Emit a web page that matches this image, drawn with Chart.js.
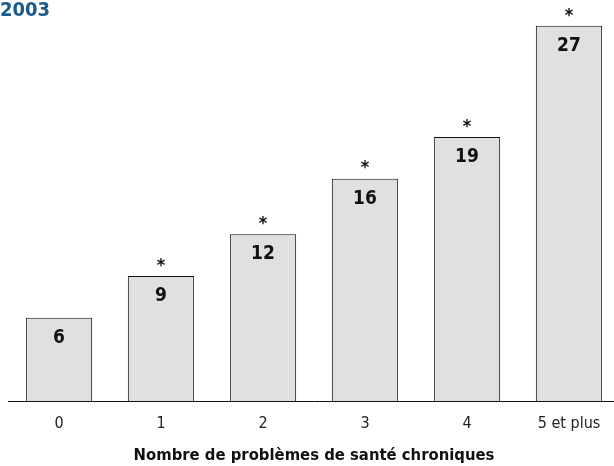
<!DOCTYPE html>
<html>
<head>
<meta charset="utf-8">
<script src="https://cdn.jsdelivr.net/npm/chart.js@4"></script>
<style>
  html, body { margin: 0; padding: 0; background: #fff; overflow: hidden; }
  #wrap { position: relative; width: 620px; height: 466px; }
  #year {
    position: absolute; left: 0; top: -3px;
    font: bold 20px "Liberation Sans Narrow", "DejaVu Sans Condensed", sans-serif;
    color: #1b5b8c;
  }
</style>
</head>
<body>
<div id="wrap">
  <canvas id="chronicChart" width="620" height="466"></canvas>
  <div id="year">2003</div>
</div>
<script>
  const categories = ['0', '1', '2', '3', '4', '5 et plus'];
  const values = [6, 9, 12, 16, 19, 27];
  const significant = [false, true, true, true, true, true];
  const axisTitle = 'Nombre de problèmes de santé chroniques';
  const narrow = '"Liberation Sans Narrow", "DejaVu Sans Condensed", sans-serif';

  // values inside the bars, asterisk above
  const barLabels = {
    id: 'barLabels',
    afterDatasetsDraw(chart) {
      let ctx = chart.ctx;
      let meta = chart.getDatasetMeta(0);
      ctx.save();
      ctx.fillStyle = '#111';
      ctx.textAlign = 'center';
      ctx.textBaseline = 'middle';
      meta.data.forEach(function (bar, i) {
        ctx.font = 'bold 19px ' + narrow;
        ctx.fillText(values[i], bar.x, bar.y + 20);
        if (significant[i]) {
          ctx.font = 'bold 18px ' + narrow;
          ctx.fillText('*', bar.x, bar.y - 10);
        }
      });
      ctx.restore();
    }
  };

  let chronicBar = document.getElementById('chronicChart');
  let chronicChart = new Chart(chronicBar, {
    type: 'bar',
    data: {
      labels: categories,
      datasets: [{
        data: values,
        backgroundColor: '#e0e0e0',
        borderColor: '#111',
        borderWidth: 1,
        barPercentage: 0.65,
        categoryPercentage: 1
      }]
    },
    options: {
      responsive: false,
      animation: false,
      layout: { padding: { left: 8, right: 0, top: 5, bottom: 0 } },
      plugins: {
        legend: { display: false },
        tooltip: { enabled: false }
      },
      scales: {
        x: {
          grid: { display: false, drawTicks: false },
          border: { display: true, color: '#111', width: 1 },
          ticks: {
            color: '#222',
            padding: 13,
            font: { family: narrow, size: 16 }
          },
          title: {
            display: true,
            text: axisTitle,
            color: '#111',
            padding: { top: 0, bottom: 0 },
            font: { family: narrow, size: 16.5, weight: 'bold' }
          }
        },
        y: {
          display: false,
          min: 0,
          max: 28.5
        }
      }
    },
    plugins: [barLabels]
  });
</script>
</body>
</html>
